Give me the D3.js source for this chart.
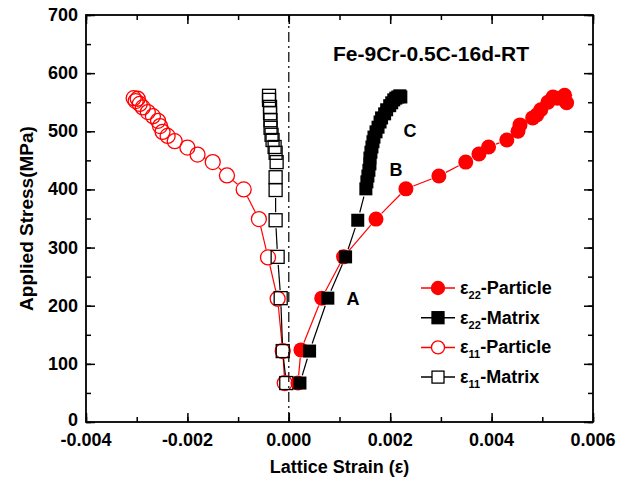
<!DOCTYPE html>
<html>
<head>
<meta charset="utf-8">
<script src="https://cdn.jsdelivr.net/npm/d3@7"></script>
<style>
  body { margin: 0; background: #fff; }
  text { font-family: "Liberation Sans", Arial, sans-serif; font-weight: bold; }
</style>
</head>
<body>
<script>
// tick labels
var xTicks = [-0.004, -0.002, 0, 0.002, 0.004, 0.006]
var yTicks = [0, 100, 200, 300, 400, 500, 600, 700]

// e22 particle (filled red circles)
var p22Strain = [0.00018, 0.00024, 0.00065, 0.00108, 0.00172, 0.00231, 0.00296, 0.00349, 0.00375, 0.00394, 0.0043, 0.00452, 0.00456, 0.00481, 0.00489, 0.00497, 0.00511, 0.00521, 0.0053, 0.00544, 0.00548]
var p22Stress = [67, 124, 213, 284, 349, 401, 423, 447, 461, 473, 485, 500, 511, 523, 528, 537, 550, 559, 557, 562, 549]

// e22 matrix (filled black squares)
var m22Strain = [0.00022, 0.00041, 0.00077, 0.00112, 0.00136, 0.00152, 0.00154, 0.00156, 0.00158, 0.0016, 0.0016, 0.00162, 0.00164, 0.00166, 0.00168, 0.00172, 0.00176, 0.0018, 0.00183, 0.00189, 0.00193, 0.00199, 0.00203, 0.00207, 0.00211, 0.00215, 0.00219, 0.00221]
var m22Stress = [67, 122, 213, 284, 347, 401, 413, 423, 433, 444, 454, 464, 473, 482, 490, 499, 507, 516, 523, 530, 537, 544, 549, 554, 557, 559, 561, 559]

// e11 particle (open red circles)
var p11Strain = [-0.00008, -0.00012, -0.00022, -0.00041, -0.00059, -0.00089, -0.00122, -0.0015, -0.0018, -0.002, -0.00225, -0.00239, -0.00249, -0.00254, -0.00258, -0.00268, -0.00278, -0.00288, -0.00294, -0.00298, -0.00302, -0.00306]
var p11Stress = [67, 122, 212, 283, 349, 400, 424, 447, 460, 472, 483, 492, 499, 509, 518, 526, 533, 541, 547, 556, 552, 557]

// e11 matrix (open black squares)
var m11Strain = [-0.00005, -0.00012, -0.00016, -0.00022, -0.00026, -0.00026, -0.00026, -0.00024, -0.00026, -0.00028, -0.00032, -0.00034, -0.00036, -0.00036, -0.00037, -0.00037, -0.00039, -0.00039]
var m11Stress = [67, 122, 213, 284, 347, 399, 421, 447, 463, 473, 485, 494, 506, 519, 531, 542, 554, 561]

var width = 635
var height = 483
var pl = 86, pr = 593, pt = 15, pb = 422

var svg = d3.select("body").append("svg")
    .attr("width", width)
    .attr("height", height)

var x = d3.scaleLinear().domain([-0.004, 0.006]).range([pl, pr])
var y = d3.scaleLinear().domain([0, 700]).range([pb, pt])

function zip(a, b) { return a.map(function (v, i) { return [v, b[i]] }) }

// zero line
svg.append("line")
    .attr("x1", x(0)).attr("x2", x(0))
    .attr("y1", y(0)).attr("y2", y(700))
    .attr("stroke", "#000").attr("stroke-width", 1.2)
    .attr("stroke-dasharray", "10,4,2,4")

// connecting lines with gaps at the markers
function drawLine(pts, color, gap) {
    for (var i = 0; i < pts.length - 1; i++) {
        var x1 = x(pts[i][0]), y1 = y(pts[i][1])
        var x2 = x(pts[i + 1][0]), y2 = y(pts[i + 1][1])
        var dx = x2 - x1, dy = y2 - y1
        var len = Math.sqrt(dx * dx + dy * dy)
        if (len <= gap * 2) continue
        var ux = dx / len, uy = dy / len
        svg.append("line")
            .attr("x1", x1 + ux * gap).attr("y1", y1 + uy * gap)
            .attr("x2", x2 - ux * gap).attr("y2", y2 - uy * gap)
            .attr("stroke", color).attr("stroke-width", 1.2)
    }
}

var p22 = zip(p22Strain, p22Stress)
var m22 = zip(m22Strain, m22Stress)
var p11 = zip(p11Strain, p11Stress)
var m11 = zip(m11Strain, m11Stress)

drawLine(p11, "#ff0000", 8)
drawLine(m11, "#000", 8)
drawLine(p22, "#ff0000", 8)
drawLine(m22, "#000", 8)

var r = 7.5, s = 13

svg.append("g").selectAll("circle").data(p11).enter()
    .append("circle")
    .attr("cx", function (d) { return x(d[0]) })
    .attr("cy", function (d) { return y(d[1]) })
    .attr("r", r)
    .attr("fill", "none").attr("stroke", "#ff0000").attr("stroke-width", 1.3)

svg.append("g").selectAll("rect").data(m11).enter()
    .append("rect")
    .attr("x", function (d) { return x(d[0]) - s / 2 })
    .attr("y", function (d) { return y(d[1]) - s / 2 })
    .attr("width", s).attr("height", s)
    .attr("fill", "none").attr("stroke", "#000").attr("stroke-width", 1.3)

svg.append("g").selectAll("circle").data(p22).enter()
    .append("circle")
    .attr("cx", function (d) { return x(d[0]) })
    .attr("cy", function (d) { return y(d[1]) })
    .attr("r", r)
    .attr("fill", "#ff0000")

svg.append("g").selectAll("rect").data(m22).enter()
    .append("rect")
    .attr("x", function (d) { return x(d[0]) - s / 2 })
    .attr("y", function (d) { return y(d[1]) - s / 2 })
    .attr("width", s).attr("height", s)
    .attr("fill", "#000")

// axes, ticks inward on all four sides
var xMinor = d3.range(-0.004, 0.0061, 0.001)
var yMinor = d3.range(0, 701, 50)

svg.append("g").attr("transform", "translate(0," + pb + ")")
    .call(d3.axisTop(x).tickValues(xMinor).tickSize(5).tickFormat(""))
svg.append("g").attr("transform", "translate(0," + pb + ")")
    .call(d3.axisTop(x).tickValues(xTicks).tickSize(9).tickFormat(""))
svg.append("g").attr("transform", "translate(0," + pt + ")")
    .call(d3.axisBottom(x).tickValues(xMinor).tickSize(5).tickFormat(""))
svg.append("g").attr("transform", "translate(0," + pt + ")")
    .call(d3.axisBottom(x).tickValues(xTicks).tickSize(9).tickFormat(""))
svg.append("g").attr("transform", "translate(" + pl + ",0)")
    .call(d3.axisRight(y).tickValues(yMinor).tickSize(5).tickFormat(""))
svg.append("g").attr("transform", "translate(" + pl + ",0)")
    .call(d3.axisRight(y).tickValues(yTicks).tickSize(9).tickFormat(""))
svg.append("g").attr("transform", "translate(" + pr + ",0)")
    .call(d3.axisLeft(y).tickValues(yMinor).tickSize(5).tickFormat(""))
svg.append("g").attr("transform", "translate(" + pr + ",0)")
    .call(d3.axisLeft(y).tickValues(yTicks).tickSize(9).tickFormat(""))

svg.selectAll(".domain").remove()
svg.selectAll(".tick line").attr("stroke", "#000").attr("stroke-width", 1.5)

svg.append("rect")
    .attr("x", pl).attr("y", pt)
    .attr("width", pr - pl).attr("height", pb - pt)
    .attr("fill", "none").attr("stroke", "#000").attr("stroke-width", 1.8)

// tick labels
svg.append("g").selectAll("text").data(xTicks).enter()
    .append("text")
    .attr("x", function (d) { return x(d) })
    .attr("y", pb + 24)
    .attr("text-anchor", "middle")
    .attr("font-size", 18)
    .text(function (d) { return d3.format(".3f")(d).replace("−", "-") })

svg.append("g").selectAll("text").data(yTicks).enter()
    .append("text")
    .attr("x", pl - 8)
    .attr("y", function (d) { return y(d) + (d === 0 ? 4 : 6) })
    .attr("text-anchor", "end")
    .attr("font-size", 18)
    .text(function (d) { return d })

// axis titles
svg.append("text")
    .attr("x", (pl + pr) / 2).attr("y", 473)
    .attr("text-anchor", "middle").attr("font-size", 18)
    .text("Lattice Strain (ε)")

svg.append("text")
    .attr("transform", "translate(33," + ((pt + pb) / 2) + ") rotate(-90)")
    .attr("text-anchor", "middle").attr("font-size", 19)
    .text("Applied Stress(MPa)")

// title and annotations
svg.append("text")
    .attr("x", 333).attr("y", 61).attr("font-size", 21)
    .text("Fe-9Cr-0.5C-16d-RT")

var notes = [["A", 353, 305], ["B", 396, 176], ["C", 410, 137]]
svg.append("g").selectAll("text").data(notes).enter()
    .append("text")
    .attr("x", function (d) { return d[1] })
    .attr("y", function (d) { return d[2] })
    .attr("text-anchor", "middle").attr("font-size", 18)
    .text(function (d) { return d[0] })

// legend
var legendItems = [
    { sub: "22", name: "-Particle", color: "#ff0000", shape: "circle", fill: "#ff0000" },
    { sub: "22", name: "-Matrix", color: "#000", shape: "square", fill: "#000" },
    { sub: "11", name: "-Particle", color: "#ff0000", shape: "circle", fill: "#fff" },
    { sub: "11", name: "-Matrix", color: "#000", shape: "square", fill: "#fff" }
]
var lg = svg.append("g")
legendItems.forEach(function (d, i) {
    var ly = 288 + i * 29.7
    lg.append("line").attr("x1", 421).attr("x2", 455).attr("y1", ly).attr("y2", ly)
        .attr("stroke", d.color).attr("stroke-width", 1.5)
    if (d.shape === "circle") {
        lg.append("circle").attr("cx", 438).attr("cy", ly).attr("r", 6.5)
            .attr("fill", d.fill).attr("stroke", d.color).attr("stroke-width", 1.3)
    } else {
        lg.append("rect").attr("x", 438 - 6).attr("y", ly - 6).attr("width", 12).attr("height", 12)
            .attr("fill", d.fill).attr("stroke", d.color).attr("stroke-width", 1.3)
    }
    var t = lg.append("text").attr("x", 460).attr("y", ly + 6).attr("font-size", 18)
    t.append("tspan").text("ε")
    t.append("tspan").attr("font-size", 11).attr("dy", 5).text(d.sub)
    t.append("tspan").attr("dy", -5).text(d.name)
})
</script>
</body>
</html>
